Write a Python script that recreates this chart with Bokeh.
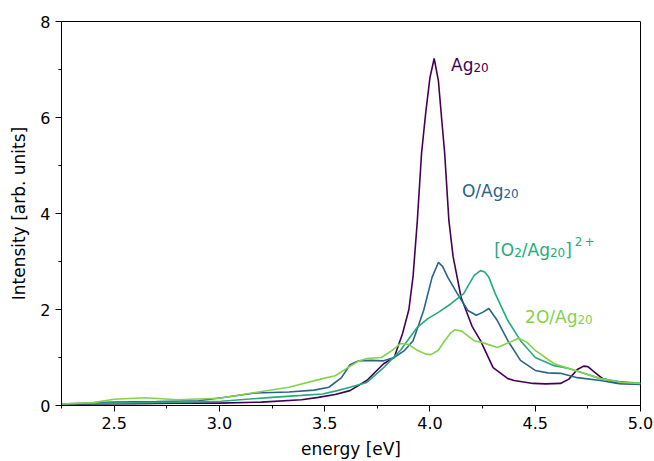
from bokeh.plotting import figure
from bokeh.models import Label, FixedTicker, PrintfTickFormatter
from bokeh.embed import file_html
from bokeh.resources import INLINE

# ---- data ----
x_ag20 = [2.25, 2.4, 2.6, 2.8, 3.0, 3.2, 3.39, 3.47, 3.55, 3.62, 3.70, 3.78, 3.83, 3.87, 3.90,
          3.92, 3.94, 3.96, 3.98, 4.0, 4.02, 4.04, 4.055, 4.07, 4.09, 4.11, 4.148, 4.2, 4.24,
          4.30, 4.37, 4.40, 4.49, 4.55, 4.62, 4.66, 4.70, 4.73, 4.75, 4.78, 4.82, 4.9, 5.0]
y_ag20 = [0.02, 0.03, 0.04, 0.05, 0.05, 0.07, 0.12, 0.17, 0.23, 0.31, 0.52, 0.87, 1.0, 1.5, 2.0,
          2.7, 3.85, 5.25, 6.1, 6.83, 7.23, 6.77, 6.0, 5.25, 3.85, 3.1, 2.25, 1.65, 1.35,
          0.79, 0.56, 0.52, 0.46, 0.45, 0.46, 0.55, 0.75, 0.82, 0.81, 0.7, 0.56, 0.46, 0.45]

x_oag20 = [2.25, 2.5, 2.7, 2.9, 3.01, 3.17, 3.33, 3.45, 3.52, 3.58, 3.62, 3.66, 3.72, 3.78,
           3.83, 3.88, 3.92, 3.97, 4.01, 4.04, 4.06, 4.085, 4.13, 4.18, 4.22, 4.25, 4.28,
           4.32, 4.37, 4.43, 4.50, 4.56, 4.62, 4.70, 4.81, 4.89, 5.0]
y_oag20 = [0.03, 0.07, 0.08, 0.10, 0.16, 0.26, 0.28, 0.32, 0.38, 0.58, 0.85, 0.93, 0.94, 0.93,
           1.0, 1.15, 1.35, 1.98, 2.67, 2.98, 2.9, 2.67, 2.33, 1.98, 1.88, 1.94, 2.02,
           1.77, 1.35, 0.94, 0.73, 0.68, 0.67, 0.58, 0.52, 0.46, 0.44]

x_o2ag20 = [2.25, 2.5, 2.8, 3.01, 3.25, 3.39, 3.49, 3.56, 3.62, 3.70, 3.78, 3.86, 3.94, 3.99,
            4.04, 4.10, 4.16, 4.21, 4.24, 4.26, 4.28, 4.31, 4.37, 4.43, 4.50, 4.59, 4.66,
            4.73, 4.81, 4.9, 5.0]
y_o2ag20 = [0.03, 0.05, 0.07, 0.09, 0.17, 0.21, 0.24, 0.31, 0.38, 0.48, 0.79, 1.15, 1.63, 1.81,
            1.94, 2.12, 2.33, 2.71, 2.81, 2.78, 2.67, 2.33, 1.77, 1.35, 1.0, 0.83, 0.77,
            0.67, 0.56, 0.5, 0.46]

x_2oag20 = [2.25, 2.4, 2.5, 2.65, 2.8, 3.0, 3.17, 3.33, 3.49, 3.55, 3.61, 3.66, 3.70, 3.77,
            3.82, 3.86, 3.90, 3.94, 3.98, 4.005, 4.04, 4.07, 4.10, 4.12, 4.15, 4.21, 4.25,
            4.32, 4.37, 4.42, 4.46, 4.50, 4.59, 4.69, 4.81, 4.91, 5.0]
y_2oag20 = [0.03, 0.06, 0.13, 0.16, 0.12, 0.15, 0.27, 0.38, 0.56, 0.62, 0.79, 0.92, 0.98, 1.0,
            1.15, 1.29, 1.27, 1.15, 1.07, 1.06, 1.15, 1.35, 1.52, 1.58, 1.55, 1.35, 1.31,
            1.21, 1.30, 1.40, 1.32, 1.15, 0.87, 0.73, 0.56, 0.48, 0.46]

colors = ["#440154", "#2a648c", "#25ab7a", "#82d34b"]
# label text pieces: (text, kind) with kind "n" normal, "sub" subscript, "sup" superscript
label_parts = [
    [("Ag", "n"), ("20", "sub")],
    [("O/Ag", "n"), ("20", "sub")],
    [("[O", "n"), ("2", "sub"), ("/Ag", "n"), ("20", "sub"), ("]", "n"), ("2", "sup"), ("+", "sup")],
    [("2O/Ag", "n"), ("20", "sub")],
]
label_x = [4.10, 4.152, 4.305, 4.452]
label_y = [7.10, 4.46, 3.25, 1.84]

x_major = [2.5, 3.0, 3.5, 4.0, 4.5, 5.0]
x_minor = [2.25, 2.75, 3.25, 3.75, 4.25, 4.75]
y_major = [0, 2, 4, 6, 8]
y_minor = [1, 3, 5, 7]

FONT = "DejaVu Sans"
# DejaVu Sans advance widths (em)
ADV = {"A": 0.684, "g": 0.635, "O": 0.787, "/": 0.337, "[": 0.390, "]": 0.390,
       "2": 0.636, "0": 0.636, "+": 0.838}
SIZE = {"n": 17, "sub": 12, "sup": 12}
DY = {"n": 0, "sub": -2.5, "sup": 8}

p = figure(width=654, height=461, x_range=(2.25, 5.0), y_range=(0, 8),
           output_backend="svg", toolbar_location=None,
           min_border_left=61, min_border_right=14, min_border_top=21, min_border_bottom=56)

p.background_fill_color = "white"
p.border_fill_color = "white"
p.outline_line_color = "black"
p.outline_line_width = 1
p.xgrid.visible = False
p.ygrid.visible = False

series = [(x_ag20, y_ag20), (x_oag20, y_oag20), (x_o2ag20, y_o2ag20), (x_2oag20, y_2oag20)]
for (xs, ys), c in zip(series, colors):
    p.line(xs, ys, line_color=c, line_width=1.6)

for parts, c, lx, ly in zip(label_parts, colors, label_x, label_y):
    off = 0.0
    prev = None
    for txt, kind in parts:
        if kind == "sup":
            off += 3 if prev != "sup" else 2
        p.add_layout(Label(x=lx, y=ly, x_offset=off, y_offset=DY[kind], text=txt,
                           text_color=c, text_font=FONT, text_font_size=f"{SIZE[kind]}px",
                           text_baseline="alphabetic", text_align="left"))
        off += sum(ADV[ch] for ch in txt) * SIZE[kind]
        prev = kind

p.xaxis.ticker = FixedTicker(ticks=x_major, minor_ticks=x_minor)
p.yaxis.ticker = FixedTicker(ticks=y_major, minor_ticks=y_minor)
p.xaxis.formatter = PrintfTickFormatter(format="%.1f")
p.xaxis.axis_label = "energy [eV]"
p.yaxis.axis_label = "Intensity [arb. units]"
for ax in (p.xaxis, p.yaxis):
    ax.axis_label_text_font = FONT
    ax.axis_label_text_font_size = "17px"
    ax.axis_label_text_font_style = "normal"
    ax.axis_label_text_color = "black"
    ax.major_label_text_font = FONT
    ax.major_label_text_font_size = "16px"
    ax.major_label_text_color = "black"
    ax.axis_line_color = "black"
    ax.major_tick_line_color = "black"
    ax.minor_tick_line_color = "black"
    ax.major_tick_in = 0
    ax.major_tick_out = 6
    ax.minor_tick_in = 0
    ax.minor_tick_out = 3
p.yaxis.axis_label_standoff = 8
p.xaxis.axis_label_standoff = 7

open("out.html", "w").write(file_html(p, INLINE))
